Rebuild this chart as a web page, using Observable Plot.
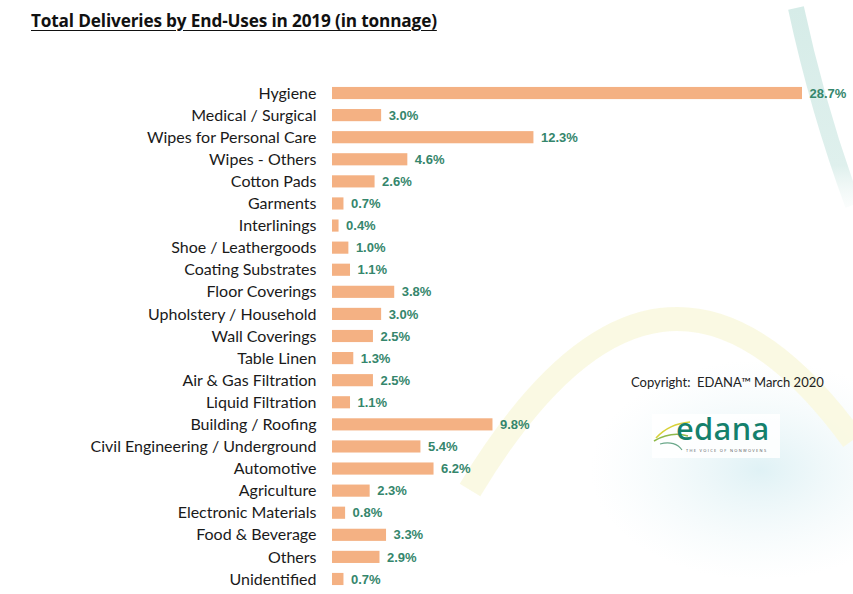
<!DOCTYPE html>
<html>
<head>
<meta charset="utf-8">
<script src="https://cdn.jsdelivr.net/npm/d3@7"></script>
<script src="https://cdn.jsdelivr.net/npm/@observablehq/plot@0.6"></script>
<style>
  html, body { margin: 0; padding: 0; background: #fff; }
  #wrap { position: relative; width: 853px; height: 594px; overflow: hidden; font-family: "Open Sans", "Noto Sans", sans-serif; }
  #bg { position: absolute; left: 0; top: 0; }
  #title { position: absolute; left: 31px; top: 9px; font-size: 17.2px; font-weight: 700; color: #111; text-decoration: underline; text-underline-offset: 3px; letter-spacing: -0.15px; }
  #chart { position: absolute; left: 0; top: 0; }
  #copy { position: absolute; left: 631px; top: 374px; font-family: Lato, "Open Sans", sans-serif; font-size: 13px; color: #222; }
  #logo { position: absolute; left: 652px; top: 414px; width: 128px; height: 44px; background: rgba(255,255,255,0.85); }
  #logo .word { position: absolute; left: 24px; top: -7px; font-family: "Noto Sans", sans-serif; font-size: 31px; font-weight: 500; color: #14806c; letter-spacing: 0.3px; }
  #logo .tag { position: absolute; left: 34px; top: 34px; font-size: 4px; color: #555; letter-spacing: 1.3px; white-space: nowrap; }
</style>
</head>
<body>
<div id="wrap">
  <svg id="bg" width="853" height="594">
    <defs>
      <radialGradient id="blug" cx="0.5" cy="0.5" r="0.5">
        <stop offset="0" stop-color="#dcf0f4" stop-opacity="0.9"/>
        <stop offset="1" stop-color="#eef7f9" stop-opacity="0"/>
      </radialGradient>
      <linearGradient id="tealg" x1="0" y1="0" x2="0" y2="1">
        <stop offset="0" stop-color="#d6ece8"/>
        <stop offset="0.8" stop-color="#dff0ed"/>
        <stop offset="1" stop-color="#eef7f5" stop-opacity="0.3"/>
      </linearGradient>
    </defs>
    <ellipse cx="760" cy="470" rx="170" ry="110" fill="url(#blug)"/>
    <path d="M470,490 Q660,175 853,440" stroke="#f9f8e0" stroke-width="24" fill="none" opacity="0.9"/>
    <path d="M796,8 Q818,110 853,205" stroke="url(#tealg)" stroke-width="16" fill="none"/>
  </svg>
  <div id="title">Total Deliveries by End-Uses in 2019 (in tonnage)</div>
  <div id="chart"></div>
  <div id="copy">Copyright:&nbsp; EDANA™ March 2020</div>
  <div id="logo">
    <svg width="40" height="44" style="position:absolute;left:0;top:0">
      <path d="M4,24 C14,13 26,9 38,8" stroke="#d8d23a" stroke-width="1.6" fill="none"/>
      <path d="M2,27 C14,20 26,19 36,22" stroke="#8fb94a" stroke-width="1.6" fill="none"/>
      <path d="M8,30 C18,27 26,30 30,36" stroke="#6aa88a" stroke-width="1.2" fill="none"/>
    </svg>
    <div class="word">edana</div>
    <div class="tag">THE VOICE OF NONWOVENS</div>
  </div>
</div>
<script>
const categories = [
  "Hygiene", "Medical / Surgical", "Wipes for Personal Care", "Wipes - Others",
  "Cotton Pads", "Garments", "Interlinings", "Shoe / Leathergoods",
  "Coating Substrates", "Floor Coverings", "Upholstery / Household", "Wall Coverings",
  "Table Linen", "Air & Gas Filtration", "Liquid Filtration", "Building / Roofing",
  "Civil Engineering / Underground", "Automotive", "Agriculture", "Electronic Materials",
  "Food & Beverage", "Others", "Unidentified"
];
const shares = [
  28.7, 3.0, 12.3, 4.6,
  2.6, 0.7, 0.4, 1.0,
  1.1, 3.8, 3.0, 2.5,
  1.3, 2.5, 1.1, 9.8,
  5.4, 6.2, 2.3, 0.8,
  3.3, 2.9, 0.7
];
const data = categories.map((c, i) => ({category: c, share: shares[i]}));

const chart = Plot.plot({
  width: 853,
  height: 594,
  marginTop: 77,
  marginBottom: -1,
  marginLeft: 332,
  marginRight: 51,
  style: {background: "transparent", fontFamily: "Lato, 'Open Sans', sans-serif", overflow: "visible"},
  x: {domain: [0, 28.7], axis: null},
  y: {domain: categories, padding: 0.45, round: false, label: null},
  marks: [
    Plot.barX(data, {x: "share", y: "category", fill: "#f4b183"}),
    Plot.text(data, {
      x: "share", y: "category", text: d => d.share.toFixed(1) + "%",
      textAnchor: "start", dx: 7, fill: "#35866c", fontWeight: "bold",
      fontSize: 13, fontFamily: "Liberation Sans, Arial, sans-serif"
    }),
    Plot.axisY({tickSize: 0, tickPadding: 16, fontSize: 16, label: null, color: "#1a1a1a"})
  ]
});
document.getElementById("chart").appendChild(chart);
</script>
</body>
</html>
